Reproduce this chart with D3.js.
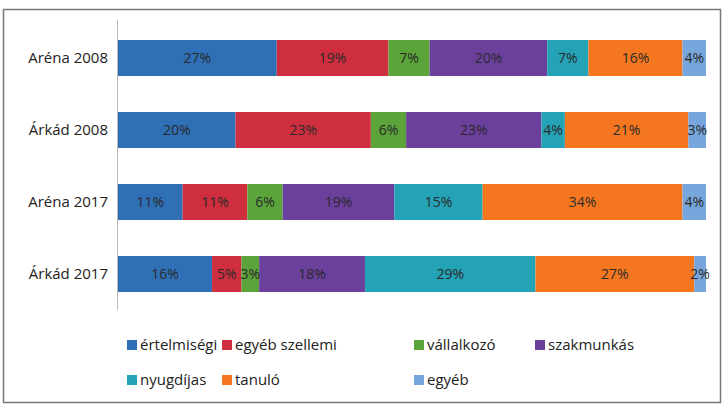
<!DOCTYPE html>
<html><head><meta charset="utf-8">
<script src="https://cdn.jsdelivr.net/npm/d3@7"></script>
<style>body{margin:0;background:#fff}svg{font-family:"Open Sans",sans-serif}</style>
</head><body><svg id="c"></svg>
<script>
const categories = ["Aréna 2008", "Árkád 2008", "Aréna 2017", "Árkád 2017"];
const series = ["értelmiségi", "egyéb szellemi", "vállalkozó", "szakmunkás", "nyugdíjas", "tanuló", "egyéb"];
const colors = ["#2f6fb5", "#cf2e3e", "#5aa43a", "#6b3f9c", "#24a2b6", "#f47720", "#77a6dc"];
const values = [
  [27, 19, 7, 20, 7, 16, 4],
  [20, 23, 6, 23, 4, 21, 3],
  [11, 11, 6, 19, 15, 34, 4],
  [16, 5, 3, 18, 29, 27, 2]
];

const width = 727, height = 406;
const svg = d3.select("#c").attr("width", width).attr("height", height);

// frame
svg.append("rect").attr("x", 3.5).attr("y", 9.5).attr("width", 717).attr("height", 393)
  .attr("fill", "none").attr("stroke", "#777").attr("stroke-width", 1.5);

const x = d3.scaleLinear().domain([0, 100]).range([118, 706]);
const y = d3.scaleBand().domain(categories).range([22, 310]).paddingInner(0.5).paddingOuter(0.25);

svg.append("line").attr("x1", 117.5).attr("x2", 117.5).attr("y1", 20).attr("y2", 310)
  .attr("stroke", "#bbb");

svg.append("g").selectAll("text").data(categories).join("text")
  .attr("x", 108).attr("y", d => y(d) + y.bandwidth() / 2).attr("dy", "0.35em")
  .attr("text-anchor", "end").attr("font-size", 15).attr("fill", "#222").text(d => d);

categories.forEach((c, i) => {
  const stack = [];
  let acc = 0;
  values[i].forEach((v, j) => { stack.push({ v, j, x0: acc }); acc += v; });
  const g = svg.append("g");
  g.selectAll("rect").data(stack).join("rect")
    .attr("x", d => x(d.x0)).attr("y", y(c))
    .attr("width", d => x(d.x0 + d.v) - x(d.x0)).attr("height", y.bandwidth())
    .attr("fill", d => colors[d.j]);
  g.selectAll("text").data(stack).join("text")
    .attr("x", d => x(d.x0 + d.v / 2)).attr("y", y(c) + y.bandwidth() / 2).attr("dy", "0.35em")
    .attr("text-anchor", "middle").attr("font-size", 14).attr("fill", "#2a2a2a")
    .text(d => d.v + "%");
});

// legend
const legPos = [[127, 345], [222, 345], [414, 345], [535, 345], [127, 380], [222, 380], [414, 380]];
const leg = svg.append("g").selectAll("g").data(series).join("g")
  .attr("transform", (d, i) => `translate(${legPos[i][0]},${legPos[i][1]})`);
leg.append("rect").attr("x", 0).attr("y", -5).attr("width", 10).attr("height", 10)
  .attr("fill", (d, i) => colors[i]);
leg.append("text").attr("x", 13).attr("dy", "0.35em").attr("font-size", 15).attr("fill", "#222")
  .text(d => d);
</script></body></html>
